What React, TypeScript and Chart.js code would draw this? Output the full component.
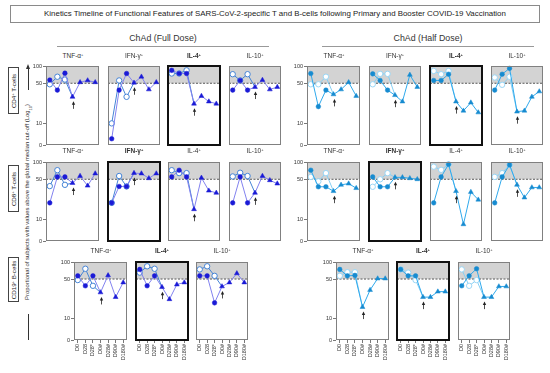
import React, { useEffect, useRef } from 'react';
import { Chart, registerables } from 'chart.js';

Chart.register(...registerables);

const FONT = "'Liberation Sans', Arial, Helvetica, sans-serif";

const categories = ['D0', 'D28', 'D28*', 'D0#', 'D28#', 'D90#', 'D180#'];
const yTickValues = [4.2, 10, 50, 100];
const yTickLabels = ['0', '10', '50', '100'];
const cutoff = 50;
const cytokines = ['TNF-α', 'IFN-γ', 'IL-4', 'IL-10'];
const cytokinesB = ['TNF-α', 'IL-4', 'IL-10'];

// CD4+ T-cells, ChAd full dose (filled: 7 visits, open: first 3 visits)
const cd4FullTnfFilled = [57, 38, 75, 29, 52, 56, 52];
const cd4FullTnfOpen = [48, 65, 58];
const cd4FullIfnFilled = [5.4, 38, 74, 51, 65, 39, 52];
const cd4FullIfnOpen = [10, 56, 29];
const cd4FullIl4Filled = [84, 74, 74, 22, 30, 24, 22];
const cd4FullIl4Open = [74, 74, 84];
const cd4FullIl10Filled = [38, 56, 38, 43, 57, 39, 43];
const cd4FullIl10Open = [72, 56, 72];

// CD4+ T-cells, ChAd half dose
const cd4HalfTnfFilled = [74, 19.6, 38, 32, 39, 52, 30];
const cd4HalfTnfOpen = [48, 48, 65];
const cd4HalfIfnFilled = [73, 56, 38, 31, 24, 70, 43];
const cd4HalfIfnOpen = [48, 73, 73];
const cd4HalfIl4Filled = [56, 56, 72, 24, 16.6, 23, 15.5];
const cd4HalfIl4Open = [82, 72, 82];
const cd4HalfIl10Filled = [38, 72, 91, 16, 16.6, 29, 36];
const cd4HalfIl10Open = [63, 47, 65];

// CD8+ T-cells, ChAd full dose
const cd8FullTnfFilled = [19.4, 55, 55, 43, 57, 38.6, 63];
const cd8FullTnfOpen = [38, 72, 40];
const cd8FullIfnFilled = [19.4, 37.5, 37.5, 64, 63, 52, 63];
const cd8FullIfnOpen = [19.4, 57, 37.5];
const cd8FullIl4Filled = [55, 72, 55, 15, 53, 31.6, 29];
const cd8FullIl4Open = [72, 64, 64];
const cd8FullIl10Filled = [19.4, 55, 19.4, 29, 57, 48, 42];
const cd8FullIl10Open = [56, 65, 57];

// CD8+ T-cells, ChAd half dose
const cd8HalfTnfFilled = [72, 37, 37, 31, 40, 42, 35];
const cd8HalfTnfOpen = [55, 46, 64];
const cd8HalfIfnFilled = [55, 37, 37, 54, 54, 52, 50];
const cd8HalfIfnOpen = [37, 50, 64];
const cd8HalfIl4Filled = [19.4, 55, 91, 31, 8.2, 30, 22];
const cd8HalfIl4Open = [83, 73, 91];
const cd8HalfIl10Filled = [19.4, 55, 89, 40, 24, 36, 36];
const cd8HalfIl10Open = [55, 64, 89];

// CD19+ B-cells, ChAd full dose
const cd19FullTnfFilled = [57, 38, 57, 29, 58, 24, 43.5];
const cd19FullTnfOpen = [48, 76, 38];
const cd19FullIl4Filled = [74, 38, 57, 36, 22, 40, 43.5];
const cd19FullIl4Open = [65, 84, 76];
const cd19FullIl10Filled = [57, 57, 19, 37, 43.5, 63, 43.5];
const cd19FullIl10Open = [74, 84, 57];

// CD19+ B-cells, ChAd half dose
const cd19HalfTnfFilled = [74, 57, 58, 16, 32, 51, 51];
const cd19HalfTnfOpen = [57, 66, 66];
const cd19HalfIl4Filled = [74, 57, 57, 24, 24, 30, 30];
const cd19HalfIl4Open = [74, 65, 48];
const cd19HalfIl10Filled = [38, 57, 76, 24, 24, 37, 37];
const cd19HalfIl10Open = [74, 38, 48];

type Pal = { fLine: string; fMark: string; oLine: string; oMark: string };
const FULL: Pal = { fLine: '#8282ef', fMark: '#1a1ad6', oLine: '#4584d6', oMark: '#4584d6' };
const HALF: Pal = { fLine: '#2fa9ec', fMark: '#168bd0', oLine: '#86cff4', oMark: '#9ad6f5' };

type Spec = {
  key: string; title: string; bold: boolean; x: number; y: number; w: number; h: number;
  filled: number[]; open: number[]; pal: Pal; showY: boolean; showX: boolean; titleY: number;
};

const PAD = 4;
const YW = 16;
const XH = 27;

function Panel({ s }: { s: Spec }) {
  const ref = useRef<HTMLCanvasElement | null>(null);
  const left = s.x - PAD - (s.showY ? YW : 0);
  const top = s.y - PAD;
  const cw = s.w + 2 * PAD + (s.showY ? YW : 0);
  const ch = s.h + 2 * PAD + (s.showX ? XH : 0);

  useEffect(() => {
    if (!ref.current) return;
    const deco = {
      id: 'deco',
      beforeDatasetsDraw(chart: any) {
        const { ctx, chartArea: a } = chart;
        const y = chart.scales.y;
        const y50 = y.getPixelForValue(cutoff);
        ctx.save();
        ctx.fillStyle = '#d3d3d3';
        ctx.fillRect(a.left, a.top, a.right - a.left, y50 - a.top);
        ctx.beginPath();
        ctx.setLineDash([2, 1.5]);
        ctx.strokeStyle = '#333';
        ctx.lineWidth = 0.8;
        ctx.moveTo(a.left, y50);
        ctx.lineTo(a.right, y50);
        ctx.stroke();
        ctx.restore();
      },
      afterDatasetsDraw(chart: any) {
        const { ctx, chartArea: a } = chart;
        const x = chart.scales.x;
        const y = chart.scales.y;
        ctx.save();
        const ax = Math.round(x.getPixelForValue(3)) + 0.5;
        const ay = y.getPixelForValue(s.filled[3]);
        ctx.strokeStyle = '#222';
        ctx.fillStyle = '#222';
        ctx.lineWidth = 0.8;
        ctx.beginPath();
        ctx.moveTo(ax, ay + 7);
        ctx.lineTo(ax, ay + 12);
        ctx.stroke();
        ctx.beginPath();
        ctx.moveTo(ax, ay + 4.5);
        ctx.lineTo(ax - 1.7, ay + 8);
        ctx.lineTo(ax + 1.7, ay + 8);
        ctx.closePath();
        ctx.fill();
        if (s.bold) {
          ctx.lineWidth = 2;
          ctx.strokeStyle = '#111';
          ctx.strokeRect(Math.round(a.left), Math.round(a.top), Math.round(a.right - a.left), Math.round(a.bottom - a.top));
        } else {
          ctx.lineWidth = 1;
          ctx.strokeStyle = '#808080';
          ctx.strokeRect(Math.round(a.left) + 0.5, Math.round(a.top) + 0.5, Math.round(a.right - a.left) - 1, Math.round(a.bottom - a.top) - 1);
        }
        ctx.restore();
      },
    };
    const openData: (number | null)[] = [...s.open, s.filled[3], null, null, null];
    const chart = new Chart(ref.current, {
      type: 'line',
      data: {
        labels: categories,
        datasets: [
          {
            data: s.filled,
            borderColor: s.pal.fLine,
            borderWidth: 1,
            pointStyle: categories.map((_, i) => (i < 3 ? 'circle' : 'triangle')) as any,
            pointRadius: categories.map((_, i) => (i < 3 ? 2.3 : 2.8)),
            pointBackgroundColor: s.pal.fMark,
            pointBorderColor: s.pal.fMark,
            pointBorderWidth: 0.5,
            tension: 0,
            clip: false as any,
          },
          {
            data: openData,
            borderColor: s.pal.oLine,
            borderWidth: 1,
            pointStyle: 'circle',
            pointRadius: [2.7, 2.7, 2.7, 0, 0, 0, 0],
            pointBackgroundColor: '#ffffff',
            pointBorderColor: s.pal.oMark,
            pointBorderWidth: 1,
            tension: 0,
            spanGaps: false,
            clip: false as any,
          },
        ],
      },
      options: {
        responsive: true,
        maintainAspectRatio: false,
        animation: false,
        devicePixelRatio: 1,
        layout: { padding: { left: PAD, right: PAD, top: PAD, bottom: PAD } },
        plugins: { legend: { display: false }, tooltip: { enabled: false }, title: { display: false } },
        scales: {
          x: {
            type: 'category',
            offset: true,
            display: s.showX,
            grid: { display: true, drawOnChartArea: false, drawTicks: true, tickLength: 3, color: '#555', lineWidth: 0.8, offset: false },
            border: { display: false },
            ticks: { font: { size: 5.5, family: FONT }, color: '#333', maxRotation: 90, minRotation: 90, autoSkip: false, padding: 1 },
            afterFit: s.showX ? (sc: any) => { sc.height = XH; } : undefined,
          },
          y: {
            type: 'logarithmic',
            min: yTickValues[0],
            max: yTickValues[yTickValues.length - 1],
            display: s.showY,
            afterBuildTicks: (sc: any) => { sc.ticks = yTickValues.map((v) => ({ value: v })); },
            grid: { display: true, drawOnChartArea: false, drawTicks: true, tickLength: 3, color: '#555', lineWidth: 0.8 },
            border: { display: false },
            ticks: {
              font: { size: 5.5, family: FONT },
              color: '#333',
              padding: 1,
              callback: (v: any) => {
                const i = yTickValues.indexOf(Number(v));
                return i >= 0 ? yTickLabels[i] : '';
              },
            },
            afterFit: s.showY ? (sc: any) => { sc.width = YW; } : undefined,
          },
        },
      } as any,
      plugins: [deco],
    });
    return () => chart.destroy();
  }, []);

  return (
    <>
      <div style={{ position: 'absolute', left, top, width: cw, height: ch }}>
        <canvas ref={ref} />
      </div>
      <div
        style={{
          position: 'absolute', left: s.x - 6, width: s.w + 12, top: s.titleY - 5, height: 10,
          lineHeight: '10px', textAlign: 'center', fontSize: 6.5, fontWeight: s.bold ? 700 : 400, color: '#333',
          whiteSpace: 'nowrap',
        }}
      >
        {s.title}
        <span style={{ fontSize: 4, verticalAlign: 'top', lineHeight: '7px' }}>+</span>
      </div>
    </>
  );
}

const rowTop = [65, 161, 261];
const rowH = [81, 81, 79];
const rowTitleY = [56, 151, 251];
const fullX = [46, 107, 167, 228];
const halfX = [307, 368, 429, 490];
const fullXB = [74, 135, 195];
const halfXB = [336, 396, 457];
const PW = 54;

const cd4Full = [[cd4FullTnfFilled, cd4FullTnfOpen], [cd4FullIfnFilled, cd4FullIfnOpen], [cd4FullIl4Filled, cd4FullIl4Open], [cd4FullIl10Filled, cd4FullIl10Open]];
const cd4Half = [[cd4HalfTnfFilled, cd4HalfTnfOpen], [cd4HalfIfnFilled, cd4HalfIfnOpen], [cd4HalfIl4Filled, cd4HalfIl4Open], [cd4HalfIl10Filled, cd4HalfIl10Open]];
const cd8Full = [[cd8FullTnfFilled, cd8FullTnfOpen], [cd8FullIfnFilled, cd8FullIfnOpen], [cd8FullIl4Filled, cd8FullIl4Open], [cd8FullIl10Filled, cd8FullIl10Open]];
const cd8Half = [[cd8HalfTnfFilled, cd8HalfTnfOpen], [cd8HalfIfnFilled, cd8HalfIfnOpen], [cd8HalfIl4Filled, cd8HalfIl4Open], [cd8HalfIl10Filled, cd8HalfIl10Open]];
const cd19Full = [[cd19FullTnfFilled, cd19FullTnfOpen], [cd19FullIl4Filled, cd19FullIl4Open], [cd19FullIl10Filled, cd19FullIl10Open]];
const cd19Half = [[cd19HalfTnfFilled, cd19HalfTnfOpen], [cd19HalfIl4Filled, cd19HalfIl4Open], [cd19HalfIl10Filled, cd19HalfIl10Open]];

function buildSpecs(): Spec[] {
  const out: Spec[] = [];
  const add = (prefix: string, row: number, xs: number[], names: string[], data: number[][][], pal: Pal, boldName: string) => {
    xs.forEach((x, i) => {
      out.push({
        key: prefix + i, title: names[i], bold: names[i] === boldName, x, y: rowTop[row], w: PW, h: rowH[row],
        filled: data[i][0], open: data[i][1], pal, showY: i === 0, showX: row === 2, titleY: rowTitleY[row],
      });
    });
  };
  add('cd4f', 0, fullX, cytokines, cd4Full, FULL, 'IL-4');
  add('cd4h', 0, halfX, cytokines, cd4Half, HALF, 'IL-4');
  add('cd8f', 1, fullX, cytokines, cd8Full, FULL, 'IFN-γ');
  add('cd8h', 1, halfX, cytokines, cd8Half, HALF, 'IFN-γ');
  add('cd19f', 2, fullXB, cytokinesB, cd19Full, FULL, 'IL-4');
  add('cd19h', 2, halfXB, cytokinesB, cd19Half, HALF, 'IL-4');
  return out;
}

function RowLabel({ top, height, children }: { top: number; height: number; children: React.ReactNode }) {
  return (
    <div style={{ position: 'absolute', left: 8, top, width: 11, height, border: '1px solid #444', boxSizing: 'border-box' }}>
      <div
        style={{
          position: 'absolute', left: '50%', top: '50%', transform: 'translate(-50%, -50%) rotate(-90deg)',
          fontSize: 6.2, whiteSpace: 'nowrap', color: '#222', lineHeight: '8px',
        }}
      >
        {children}
      </div>
    </div>
  );
}

const sup = (t: string) => <span style={{ fontSize: 4, verticalAlign: 'top', lineHeight: '6px' }}>{t}</span>;

export default function App() {
  const specs = buildSpecs();
  return (
    <div style={{ position: 'absolute', left: 0, top: 0, width: 550, height: 373, background: '#fff', fontFamily: FONT, overflow: 'hidden', color: '#222' }}>
      <div
        style={{
          position: 'absolute', left: 10, top: 5, width: 530, height: 18, border: '1px solid #8a8a8a', boxSizing: 'border-box',
          textAlign: 'center', fontSize: 7.9, lineHeight: '16px', whiteSpace: 'nowrap', color: '#222',
        }}
      >
        Kinetics Timeline of Functional Features of SARS-CoV-2-specific T and B-cells following Primary and Booster COVID-19 Vaccination
      </div>

      <div style={{ position: 'absolute', left: 57, width: 212, top: 32, textAlign: 'center', fontSize: 8.8, lineHeight: '12px', color: '#333' }}>ChAd (Full Dose)</div>
      <div style={{ position: 'absolute', left: 57, width: 212, top: 46, height: 0, borderTop: '1px solid #999' }} />
      <div style={{ position: 'absolute', left: 322, width: 212, top: 32, textAlign: 'center', fontSize: 8.8, lineHeight: '12px', color: '#333' }}>ChAd (Half Dose)</div>
      <div style={{ position: 'absolute', left: 322, width: 212, top: 46, height: 0, borderTop: '1px solid #999' }} />

      <RowLabel top={67} height={47}>CD4{sup('+')} T-cells</RowLabel>
      <RowLabel top={165} height={47}>CD8{sup('+')} T-cells</RowLabel>
      <RowLabel top={257} height={45}>CD19{sup('+')} B-cells</RowLabel>

      {/* y-axis title with arrow */}
      <div style={{ position: 'absolute', left: 28, top: 68, width: 0, height: 22, borderLeft: '0.8px solid #333' }} />
      <div style={{ position: 'absolute', left: 26.2, top: 64, width: 0, height: 0, borderLeft: '2px solid transparent', borderRight: '2px solid transparent', borderBottom: '5px solid #333' }} />
      <div style={{ position: 'absolute', left: 28, top: 314, width: 0, height: 26, borderLeft: '0.8px solid #333' }} />
      <div
        style={{
          position: 'absolute', left: 28.5, top: 202, transform: 'translate(-50%, -50%) rotate(-90deg)',
          fontSize: 5.9, whiteSpace: 'nowrap', color: '#333', lineHeight: '7px',
        }}
      >
        Proportional of subjects with values above the global median cut-off (Log<sub style={{ fontSize: 4 }}>10</sub>)
      </div>

      {specs.map((s) => (
        <Panel key={s.key} s={s} />
      ))}
    </div>
  );
}
